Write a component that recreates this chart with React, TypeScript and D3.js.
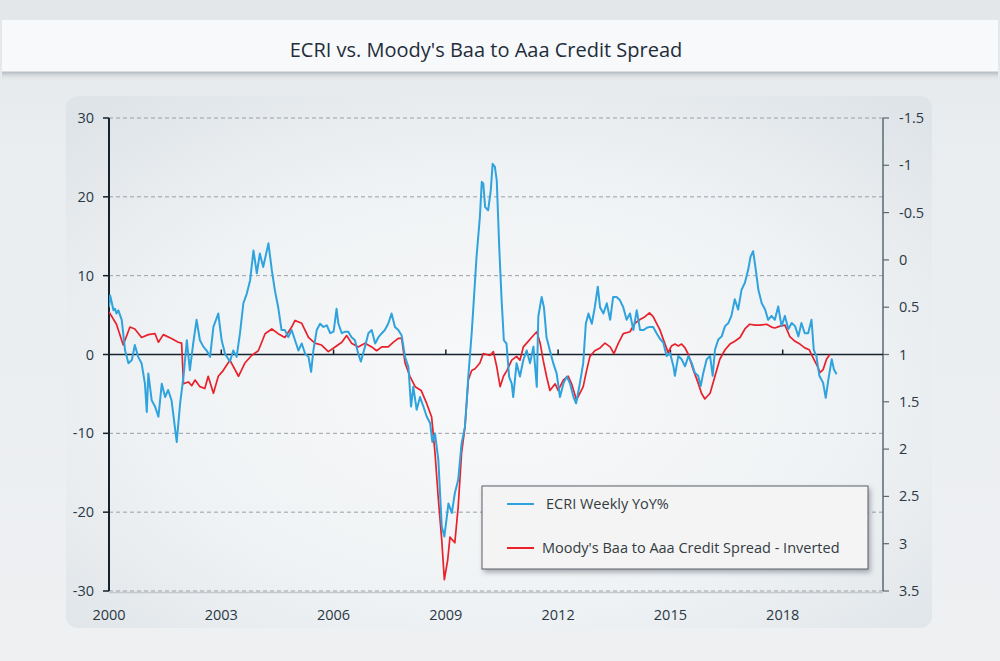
import React from 'react';
import * as d3 from 'd3';

const titleText = "ECRI vs. Moody's Baa to Aaa Credit Spread";
const xTicks = [2000, 2003, 2006, 2009, 2012, 2015, 2018];
const leftTicks = [30, 20, 10, 0, -10, -20, -30];
const gridTicks = [30, 20, 10, -10, -20, -30];
const rightTicks = [-1.5, -1, -0.5, 0, 0.5, 1, 1.5, 2, 2.5, 3, 3.5];
const seriesNames = ['ECRI Weekly YoY%', "Moody's Baa to Aaa Credit Spread - Inverted"];

// ECRI Weekly Leading Index, YoY % (left axis)
const ecri: [number, number][] = [
  [2000.0, 6.0], [2000.03, 7.5], [2000.07, 6.7], [2000.12, 5.6], [2000.16, 5.8], [2000.2, 5.2], [2000.25, 5.6],
  [2000.34, 4.4], [2000.43, 0.5], [2000.52, -1.1], [2000.61, -0.7], [2000.69, 1.2], [2000.78, -0.3], [2000.87, -1.1],
  [2000.96, -3.7], [2001.01, -7.3], [2001.05, -2.4], [2001.14, -5.8], [2001.23, -6.6], [2001.32, -7.9], [2001.41, -3.7],
  [2001.5, -5.4], [2001.58, -4.5], [2001.67, -5.8], [2001.81, -11.1], [2001.9, -6.2], [2001.99, -2.8], [2002.08, 1.8],
  [2002.16, -2.0], [2002.25, 1.4], [2002.34, 4.4], [2002.43, 1.8], [2002.52, 1.0], [2002.61, 0.5], [2002.7, -0.3],
  [2002.79, 3.5], [2002.92, 5.2], [2003.01, 1.8], [2003.1, 0.1], [2003.23, -0.9], [2003.32, 0.5], [2003.41, -0.3],
  [2003.5, 2.7], [2003.59, 6.5], [2003.68, 7.7], [2003.77, 9.4], [2003.86, 13.2], [2003.95, 10.3], [2004.03, 12.8],
  [2004.12, 11.1], [2004.26, 14.1], [2004.35, 10.7], [2004.43, 8.2], [2004.52, 6.0], [2004.61, 3.1], [2004.7, 3.1],
  [2004.79, 2.2], [2004.88, 3.1], [2004.97, 1.8], [2005.06, 0.5], [2005.15, 1.4], [2005.24, 0.1], [2005.33, -0.3],
  [2005.4, -2.2], [2005.46, 0.5], [2005.55, 3.1], [2005.64, 3.9], [2005.73, 3.5], [2005.82, 3.7], [2005.91, 2.7],
  [2006.0, 2.9], [2006.04, 4.3], [2006.08, 5.8], [2006.13, 3.9], [2006.22, 2.7], [2006.31, 2.9], [2006.39, 2.9],
  [2006.48, 2.2], [2006.57, 1.8], [2006.66, 0.1], [2006.73, -0.9], [2006.84, 1.0], [2006.93, 2.7], [2007.02, 3.1],
  [2007.11, 1.4], [2007.2, 2.2], [2007.29, 2.7], [2007.37, 3.1], [2007.46, 3.9], [2007.55, 5.2], [2007.64, 3.5],
  [2007.73, 3.1], [2007.82, 2.4], [2007.91, -0.3], [2008.0, -1.6], [2008.07, -6.6], [2008.13, -4.1], [2008.22, -7.0],
  [2008.31, -5.4], [2008.4, -6.6], [2008.49, -7.9], [2008.58, -8.7], [2008.64, -11.1], [2008.71, -10.0], [2008.8, -13.4],
  [2008.89, -21.8], [2008.96, -23.1], [2009.07, -18.9], [2009.16, -20.1], [2009.24, -17.6], [2009.33, -15.9],
  [2009.42, -11.3], [2009.51, -9.2], [2009.6, -2.8], [2009.69, 2.7], [2009.73, 5.6], [2009.82, 12.4], [2009.91, 17.5],
  [2009.96, 21.9], [2010.0, 21.7], [2010.05, 18.7], [2010.13, 18.3], [2010.2, 20.8], [2010.25, 24.2], [2010.31, 23.8],
  [2010.36, 22.1], [2010.43, 13.2], [2010.49, 6.9], [2010.55, 1.8], [2010.62, 1.4], [2010.69, -2.8], [2010.76, -3.7],
  [2010.8, -5.4], [2010.89, -1.1], [2010.98, -2.8], [2011.07, -0.7], [2011.16, 0.5], [2011.25, -1.1], [2011.34, 1.0],
  [2011.43, -4.1], [2011.47, 4.8], [2011.56, 7.3], [2011.62, 6.0], [2011.69, 2.2], [2011.78, 0.5], [2011.87, -1.1],
  [2011.96, -2.4], [2012.05, -5.4], [2012.14, -3.7], [2012.23, -2.8], [2012.32, -3.7], [2012.41, -5.4], [2012.48, -6.2],
  [2012.58, -3.7], [2012.67, -1.1], [2012.74, 3.9], [2012.81, 5.2], [2012.9, 3.9], [2012.98, 6.0], [2013.06, 8.6],
  [2013.12, 6.0], [2013.21, 5.2], [2013.3, 6.5], [2013.39, 4.4], [2013.47, 7.3], [2013.56, 7.3], [2013.65, 6.9],
  [2013.74, 6.0], [2013.83, 4.4], [2013.92, 5.2], [2014.01, 3.1], [2014.1, 5.6], [2014.19, 3.1], [2014.28, 3.1],
  [2014.37, 3.4], [2014.45, 3.5], [2014.54, 3.5], [2014.63, 2.7], [2014.72, 2.0], [2014.81, 1.5], [2014.9, -0.2],
  [2014.99, 0.2], [2015.08, -1.5], [2015.12, -2.7], [2015.21, -0.2], [2015.3, -0.6], [2015.39, -1.5], [2015.48, -0.2],
  [2015.57, -1.1], [2015.65, -2.3], [2015.74, -2.7], [2015.81, -4.0], [2015.88, -2.3], [2015.97, -0.6], [2016.06, -0.2],
  [2016.13, -2.7], [2016.19, 0.6], [2016.28, 1.9], [2016.37, 2.3], [2016.46, 3.6], [2016.55, 4.0], [2016.63, 4.9],
  [2016.72, 7.0], [2016.81, 5.7], [2016.9, 8.2], [2016.99, 9.1], [2017.08, 10.8], [2017.14, 12.4], [2017.21, 13.1],
  [2017.28, 10.8], [2017.35, 8.2], [2017.44, 6.5], [2017.53, 5.7], [2017.61, 4.4], [2017.7, 4.9], [2017.79, 4.4],
  [2017.88, 6.1], [2017.97, 3.6], [2018.06, 4.9], [2018.15, 3.2], [2018.24, 4.0], [2018.33, 3.6], [2018.42, 2.3],
  [2018.5, 4.0], [2018.59, 2.7], [2018.68, 2.7], [2018.77, 4.4], [2018.83, 0.6], [2018.9, -0.2], [2018.98, -2.7],
  [2019.08, -3.6], [2019.15, -5.5], [2019.22, -3.2], [2019.31, -0.6], [2019.37, -1.9], [2019.44, -2.5],
];

// Moody's Baa - Aaa spread, percentage points (right axis, inverted)
const spread: [number, number][] = [
  [2000.0, 0.55], [2000.2, 0.68], [2000.38, 0.9], [2000.56, 0.71], [2000.69, 0.73], [2000.87, 0.82], [2001.05, 0.79],
  [2001.23, 0.78], [2001.32, 0.87], [2001.45, 0.79], [2001.67, 0.83], [2001.85, 0.87], [2001.94, 0.88], [2001.99, 1.31],
  [2002.12, 1.29], [2002.21, 1.33], [2002.3, 1.27], [2002.43, 1.34], [2002.56, 1.36], [2002.65, 1.23], [2002.79, 1.41],
  [2002.92, 1.23], [2003.05, 1.17], [2003.23, 1.06], [2003.46, 1.23], [2003.63, 1.09], [2003.81, 1.01], [2003.99, 0.96],
  [2004.17, 0.78], [2004.35, 0.73], [2004.52, 0.78], [2004.7, 0.82], [2004.88, 0.71], [2004.97, 0.64], [2005.15, 0.67],
  [2005.33, 0.82], [2005.5, 0.88], [2005.68, 0.9], [2005.86, 0.97], [2006.04, 0.92], [2006.22, 0.87], [2006.35, 0.8],
  [2006.48, 0.88], [2006.66, 0.92], [2006.84, 0.88], [2007.02, 0.92], [2007.15, 0.96], [2007.29, 0.92], [2007.46, 0.92],
  [2007.6, 0.87], [2007.73, 0.83], [2007.82, 0.83], [2007.91, 1.09], [2008.04, 1.23], [2008.18, 1.34], [2008.34, 1.38],
  [2008.49, 1.52], [2008.62, 1.66], [2008.71, 2.04], [2008.8, 2.53], [2008.89, 2.96], [2008.96, 3.38], [2009.05, 3.17],
  [2009.11, 2.93], [2009.24, 2.99], [2009.33, 2.61], [2009.42, 2.04], [2009.51, 1.77], [2009.6, 1.27], [2009.69, 1.17],
  [2009.78, 1.15], [2009.91, 1.09], [2010.0, 0.99], [2010.18, 1.01], [2010.27, 0.97], [2010.36, 1.13], [2010.45, 1.34],
  [2010.54, 1.23], [2010.63, 1.17], [2010.76, 1.06], [2010.89, 1.02], [2010.98, 1.06], [2011.07, 0.92], [2011.16, 0.88],
  [2011.29, 0.82], [2011.43, 0.76], [2011.52, 0.88], [2011.6, 1.06], [2011.69, 1.23], [2011.78, 1.38], [2011.92, 1.31],
  [2012.0, 1.38], [2012.14, 1.27], [2012.27, 1.23], [2012.36, 1.31], [2012.49, 1.48], [2012.58, 1.41], [2012.67, 1.34],
  [2012.76, 1.17], [2012.85, 1.02], [2012.98, 0.96], [2013.12, 0.93], [2013.25, 0.88], [2013.39, 0.92], [2013.49, 0.99],
  [2013.61, 0.88], [2013.74, 0.78], [2013.92, 0.76], [2014.05, 0.67], [2014.19, 0.63], [2014.32, 0.6], [2014.44, 0.56],
  [2014.54, 0.6], [2014.63, 0.67], [2014.72, 0.74], [2014.81, 0.84], [2014.94, 0.98], [2015.03, 0.91], [2015.12, 0.89],
  [2015.21, 0.91], [2015.3, 0.89], [2015.39, 0.93], [2015.48, 1.0], [2015.61, 1.16], [2015.74, 1.3], [2015.83, 1.41],
  [2015.92, 1.47], [2016.06, 1.41], [2016.19, 1.23], [2016.32, 1.05], [2016.46, 0.95], [2016.59, 0.89], [2016.72, 0.86],
  [2016.86, 0.82], [2016.99, 0.73], [2017.12, 0.68], [2017.26, 0.69], [2017.39, 0.69], [2017.57, 0.68], [2017.7, 0.71],
  [2017.79, 0.72], [2017.93, 0.7], [2018.06, 0.69], [2018.19, 0.81], [2018.33, 0.86], [2018.46, 0.89], [2018.59, 0.93],
  [2018.71, 0.95], [2018.82, 1.04], [2018.91, 1.11], [2019.0, 1.19], [2019.08, 1.16], [2019.17, 1.05], [2019.26, 1.0],
];

const FONT = "'Open Sans', 'Noto Sans', sans-serif";

export default function App() {
  const W = 1000, H = 661;
  const x0 = 109, x1 = 883, yTop = 118, yBot = 591;
  const x = d3.scaleLinear().domain([2000, 2020.68]).range([x0, x1]);
  const yL = d3.scaleLinear().domain([-30, 30]).range([yBot, yTop]);
  const yR = d3.scaleLinear().domain([-1.5, 3.5]).range([yTop, yBot]);
  const lineL = d3.line<[number, number]>().x(d => x(d[0])).y(d => yL(d[1]));
  const lineR = d3.line<[number, number]>().x(d => x(d[0])).y(d => yR(d[1]));
  const fmt = (v: number) => String(v);

  return (
    <svg width={W} height={H} style={{ position: 'absolute', left: 0, top: 0, display: 'block' }} fontFamily={FONT}>
      <defs>
        <linearGradient id="pageBg" x1="0" y1="0" x2="0" y2="1">
          <stop offset="0" stopColor="#e2e6e9" />
          <stop offset="0.2" stopColor="#eaedf0" />
          <stop offset="1" stopColor="#eef0f2" />
        </linearGradient>
        <radialGradient id="panelBg" cx="0.5" cy="0.55" r="0.7">
          <stop offset="0" stopColor="#f8f9fa" />
          <stop offset="0.6" stopColor="#eff2f4" />
          <stop offset="1" stopColor="#dfe4e8" />
        </radialGradient>
        <linearGradient id="bandShadow" x1="0" y1="0" x2="0" y2="1">
          <stop offset="0" stopColor="#aeb6bd" stopOpacity="0.9" />
          <stop offset="1" stopColor="#dfe3e6" stopOpacity="0" />
        </linearGradient>
        <filter id="legShadow" x="-10%" y="-20%" width="130%" height="150%">
          <feDropShadow dx="2" dy="3" stdDeviation="2.5" floodColor="#4a5560" floodOpacity="0.45" />
        </filter>
        <clipPath id="plotClip">
          <rect x={x0} y={yTop - 10} width={x1 - x0} height={yBot - yTop + 20} />
        </clipPath>
      </defs>

      <rect x={0} y={0} width={W} height={H} fill="url(#pageBg)" />
      {/* title band */}
      <rect x={2} y={72} width={996} height={8} fill="url(#bandShadow)" />
      <rect x={2} y={20} width={996} height={52} fill="#f7f9fa" />
      <line x1={2} x2={998} y1={72} y2={72} stroke="#bcc3c9" strokeWidth={1} />
      <text x={486} y={57} textAnchor="middle" fontSize={20} fill="#1f2d3a">{titleText}</text>

      {/* panel */}
      <rect x={66} y={96} width={866} height={532} rx={12} ry={12} fill="url(#panelBg)" />

      {/* grid */}
      {gridTicks.map(t => (
        <line key={'g' + t} x1={x0} x2={x1} y1={yL(t)} y2={yL(t)} stroke="#9a9fa4" strokeWidth={1} strokeDasharray="4,3" />
      ))}
      <line x1={x0} x2={x1} y1={yBot + 1.5} y2={yBot + 1.5} stroke="#c3c8cc" strokeWidth={1.5} />

      {/* left axis */}
      <line x1={x0} x2={x0} y1={yTop} y2={yBot} stroke="#15232f" strokeWidth={2} />
      {leftTicks.map(t => (
        <g key={'l' + t}>
          <line x1={x0 - 6} x2={x0} y1={yL(t)} y2={yL(t)} stroke="#15232f" strokeWidth={1.5} />
          <text x={x0 - 15} y={yL(t)} dy="0.35em" textAnchor="end" fontSize={14.5} fill="#2a3845">{fmt(t)}</text>
        </g>
      ))}

      {/* right axis */}
      <line x1={x1} x2={x1} y1={yTop} y2={yBot} stroke="#5d6872" strokeWidth={1.5} />
      {rightTicks.map(t => (
        <g key={'r' + t}>
          <line x1={x1} x2={x1 + 6} y1={yR(t)} y2={yR(t)} stroke="#5d6872" strokeWidth={1.2} />
          <text x={x1 + 16} y={yR(t)} dy="0.35em" textAnchor="start" fontSize={14.5} fill="#2a3845">{fmt(t)}</text>
        </g>
      ))}

      {/* zero line (x axis) */}
      <line x1={x0} x2={x1} y1={yL(0)} y2={yL(0)} stroke="#16232e" strokeWidth={1.6} />
      {xTicks.slice(1).map(t => (
        <line key={'xt' + t} x1={x(t)} x2={x(t)} y1={yL(0) - 5} y2={yL(0)} stroke="#16232e" strokeWidth={1.5} />
      ))}
      {xTicks.map(t => (
        <text key={'xl' + t} x={x(t)} y={620} textAnchor="middle" fontSize={14.5} fill="#2a3845">{fmt(t)}</text>
      ))}

      {/* series */}
      <g clipPath="url(#plotClip)">
        <path d={lineR(spread) || ''} fill="none" stroke="#e8212b" strokeWidth={1.7} strokeLinejoin="round" />
        <path d={lineL(ecri) || ''} fill="none" stroke="#2fa3dd" strokeWidth={2} strokeLinejoin="round" />
      </g>

      {/* legend */}
      <g>
        <rect x={482} y={486} width={386} height={83} fill="#f4f4f4" stroke="#5a5f64" strokeWidth={1} filter="url(#legShadow)" />
        <line x1={507} x2={534} y1={504} y2={504} stroke="#2fa3dd" strokeWidth={2} />
        <text x={546} y={509} fontSize={14.5} fill="#333b42">{seriesNames[0]}</text>
        <line x1={507} x2={534} y1={548} y2={548} stroke="#e8212b" strokeWidth={2} />
        <text x={542} y={553} fontSize={14.5} fill="#333b42">{seriesNames[1]}</text>
      </g>
    </svg>
  );
}
